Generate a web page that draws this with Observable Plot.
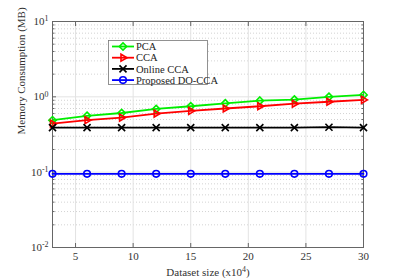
<!DOCTYPE html>
<html><head><meta charset="utf-8">
<script src="https://cdn.jsdelivr.net/npm/d3@7"></script>
<script src="https://cdn.jsdelivr.net/npm/@observablehq/plot@0.6"></script>
<style>body{margin:0;background:#fff} svg text{font-family:"Liberation Serif","Times New Roman",serif !important;}</style>
</head><body><div id="chart"></div>
<script>
const datasetSize = [3, 6, 9, 12, 15, 18, 21, 24, 27, 30];
const pca = [0.49, 0.56, 0.61, 0.69, 0.75, 0.82, 0.89, 0.92, 1.0, 1.06];
const cca = [0.44, 0.49, 0.53, 0.60, 0.65, 0.70, 0.75, 0.81, 0.86, 0.91];
const onlineCca = [0.39, 0.39, 0.39, 0.39, 0.39, 0.39, 0.39, 0.39, 0.395, 0.39];
const doCca = [0.095, 0.095, 0.095, 0.095, 0.095, 0.095, 0.095, 0.095, 0.095, 0.095];
const seriesNames = ["PCA", "CCA", "Online CCA", "Proposed DO-CCA"];
const xTicks = [5, 10, 15, 20, 25, 30];
const yTicks = [0.01, 0.1, 1, 10];
const yTickLabels = ["10^-2", "10^-1", "10^0", "10^1"];
const yMinor = [0.01, 0.1, 1].flatMap(d => [2,3,4,5,6,7,8,9].map(k => +(d*k).toPrecision(3)));

const colors = ["#00ee00", "#ff0000", "#000000", "#0000ff"];
const symbols = ["diamond2", "triangle2", "times", "circle"];
const rotates = [0, 90, 0, 0];
const seriesVals = [pca, cca, onlineCca, doCca];
const rows = seriesNames.flatMap((s, i) => datasetSize.map((x, j) => ({series: s, x, y: seriesVals[i][j], i})));

const lineMarks = seriesNames.flatMap((s, i) => {
  const d = rows.filter(r => r.series === s);
  return [
    Plot.line(d, {x: "x", y: "y", stroke: colors[i], strokeWidth: 1.8}),
    Plot.dot(d, {x: "x", y: "y", stroke: colors[i], symbol: symbols[i], rotate: rotates[i], r: 3.3, strokeWidth: 1.6, fill: "none"})
  ];
});
const blank = () => "";

const chart = Plot.plot({
  width: 401, height: 278,
  marginLeft: 52, marginRight: 38, marginTop: 21, marginBottom: 31,
  style: {fontFamily: "'Liberation Serif', serif", fontSize: "11px", color: "#333", background: "#fff"},
  x: {domain: [3, 30]},
  y: {type: "log", domain: [0.01, 10]},
  marks: [
    Plot.ruleY(yMinor, {stroke: "#c8c8c8", strokeDasharray: "1,2", strokeWidth: 0.8}),
    Plot.ruleY(yTicks, {stroke: "#e3e3e3"}),
    Plot.ruleX(xTicks, {stroke: "#e3e3e3"}),
    Plot.axisX(xTicks, {anchor: "bottom", tickSize: -4, tickPadding: 9, label: null, stroke: "#666"}),
    Plot.axisX(xTicks, {anchor: "top", tickSize: -4, tickFormat: blank, label: null, stroke: "#666"}),
    Plot.axisY(yTicks, {anchor: "left", tickSize: -4, tickPadding: 8, label: null, stroke: "#666", tickFormat: d => yTickLabels[yTicks.indexOf(d)]}),
    Plot.axisY(yMinor, {anchor: "left", tickSize: -2.5, tickFormat: blank, label: null, stroke: "#666"}),
    Plot.axisY(yTicks, {anchor: "right", tickSize: -4, tickFormat: blank, label: null, stroke: "#666"}),
    Plot.axisY(yMinor, {anchor: "right", tickSize: -2.5, tickFormat: blank, label: null, stroke: "#666"}),
    Plot.frame({stroke: "#666"}),
    ...lineMarks,
    Plot.text(["Memory Consumption (MB)"], {frameAnchor: "left", dx: -31, rotate: -90, fontSize: 11, fill: "#333"}),
    Plot.text(["Dataset size (x10^4)"], {frameAnchor: "bottom", lineAnchor: "middle", dy: 25, fontSize: 11, fill: "#333"})
  ]
});

document.getElementById("chart").appendChild(chart);

// superscripts
d3.select(chart).selectAll("text").each(function() {
  const t = d3.select(this);
  if (t.selectAll("tspan").size() > 0) return;
  const s = t.text();
  const m = s.match(/^(.*?10)\^(-?\d+)(.*)$/);
  if (!m) return;
  t.text(null);
  t.append("tspan").text(m[1]);
  t.append("tspan").attr("dy", "-0.45em").attr("font-size", "0.72em").text(m[2]);
  if (m[3]) t.append("tspan").attr("dy", "0.32em").text(m[3]);
});

// legend
const svg = d3.select(chart);
const symMap = {diamond2: d3.symbolDiamond2, triangle2: d3.symbolTriangle2, times: d3.symbolTimes, circle: d3.symbolCircle};
const lg = svg.append("g").attr("font-size", 10.5).attr("text-anchor", "start");
lg.append("rect").attr("x", 108.5).attr("y", 40.5).attr("width", 99).attr("height", 44).attr("fill", "#fff").attr("stroke", "#777").attr("stroke-width", 0.8);
seriesNames.forEach((s, i) => {
  const y = 46.5 + i * 11.2;
  lg.append("line").attr("x1", 112).attr("x2", 134).attr("y1", y).attr("y2", y).attr("stroke", colors[i]).attr("stroke-width", 1.8);
  lg.append("path")
    .attr("d", d3.symbol(symMap[symbols[i]], Math.PI * 3.3 * 3.3)())
    .attr("transform", `translate(123,${y}) rotate(${rotates[i]})`)
    .attr("fill", "none").attr("stroke", colors[i]).attr("stroke-width", 1.6);
  lg.append("text").attr("x", 136).attr("y", y).attr("dy", "0.35em").attr("fill", "#222").text(s);
});
</script>
</body></html>
